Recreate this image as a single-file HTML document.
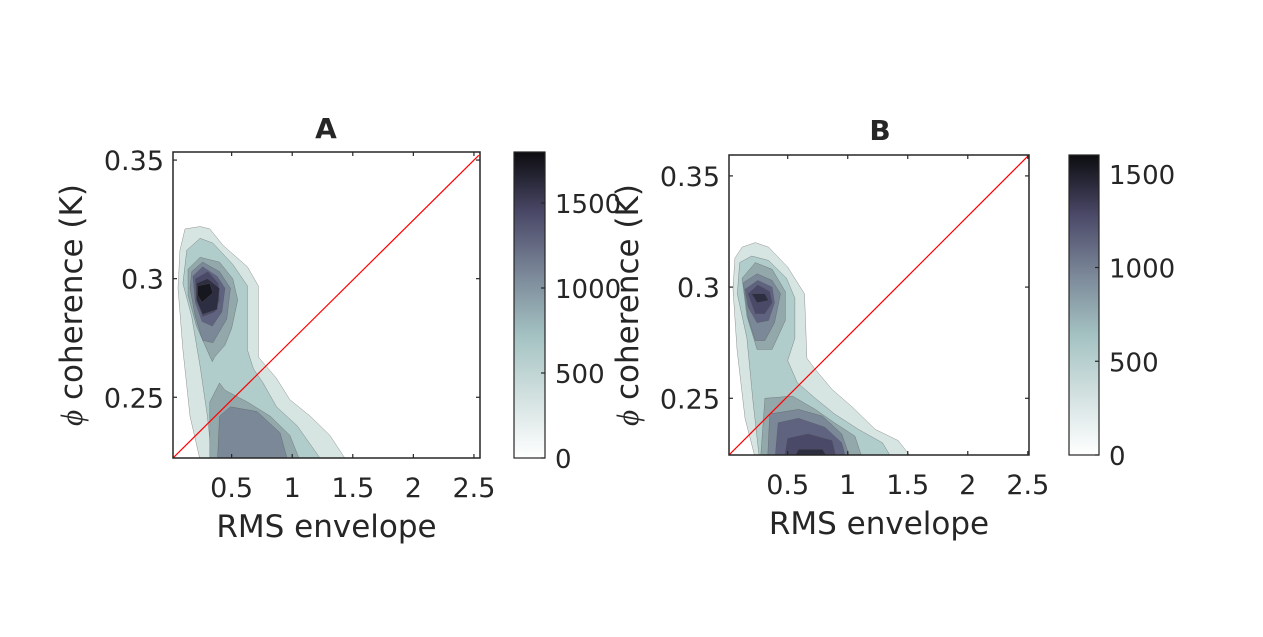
<!DOCTYPE html>
<html><head><meta charset="utf-8">
<style>
body{margin:0;background:#fff;}
svg text{font-family:"DejaVu Sans","Liberation Sans",sans-serif;fill:#262626;}
</style></head>
<body>
<svg id="fig" width="1263" height="632" viewBox="0 0 1263 632" xmlns="http://www.w3.org/2000/svg">
<defs>
<linearGradient id="bone" x1="0" y1="1" x2="0" y2="0">
<stop offset="0" stop-color="#ffffff"/>
<stop offset="0.2" stop-color="#d2e1e0"/>
<stop offset="0.4" stop-color="#a4c2c2"/>
<stop offset="0.6" stop-color="#7b8899"/>
<stop offset="0.8" stop-color="#4b4968"/>
<stop offset="1" stop-color="#0c0c10"/>
</linearGradient>
<clipPath id="clipA"><rect x="173" y="152" width="307" height="306"/></clipPath>
<clipPath id="clipB"><rect x="729" y="155" width="300" height="300"/></clipPath>
</defs>
</svg>
<script>
// ---- data ----
const levelColors = ["#d6e4e2","#b0cccb","#93a8ab","#7a8898","#5f6380","#4a4a68","#2e2e42","#17171f"];
const xTicks = [0.5,1,1.5,2,2.5];
const xTickLabels = ["0.5","1","1.5","2","2.5"];
const yTicks = [0.25,0.3,0.35];
const yTickLabels = ["0.25","0.3","0.35"];
const cbTicksA = [0,500,1000,1500];
const cbTicksB = [0,500,1000,1500];
const cbMaxA = 1800;
const cbMaxB = 1600;
const diagLineA = [[0.016,0.2244],[2.54,0.352]];
const diagLineB = [[0.011,0.2245],[2.51,0.3594]];
// contour polygons per level: [level, xs, ys]
const contoursA = [
 [0,[0.255,0.156,0.098,0.057,0.073,0.115,0.24,0.32,0.43,0.63,0.72,0.72,0.87,0.98,1.15,1.31,1.49],[0.22,0.242,0.270,0.296,0.312,0.321,0.322,0.321,0.314,0.305,0.297,0.267,0.258,0.249,0.242,0.234,0.22]],
 [1,[0.345,0.30,0.24,0.17,0.098,0.13,0.24,0.345,0.51,0.63,0.63,0.68,0.76,0.87,1.04,1.29],[0.22,0.242,0.263,0.284,0.298,0.312,0.317,0.315,0.306,0.297,0.270,0.262,0.256,0.246,0.238,0.22]],
 [2,[0.14,0.24,0.40,0.51,0.55,0.50,0.445,0.36,0.34,0.305,0.21,0.14],[0.304,0.309,0.307,0.300,0.291,0.279,0.272,0.267,0.265,0.269,0.280,0.293]],
 [2,[0.32,0.32,0.40,0.445,0.63,0.82,0.98,1.09],[0.22,0.248,0.256,0.253,0.248,0.242,0.234,0.22]],
 [3,[0.17,0.26,0.40,0.49,0.46,0.345,0.26,0.20,0.156],[0.303,0.307,0.303,0.296,0.283,0.273,0.274,0.284,0.296]],
 [3,[0.38,0.40,0.49,0.71,0.90,0.98],[0.22,0.242,0.246,0.244,0.235,0.22]],
 [4,[0.18,0.26,0.38,0.445,0.42,0.34,0.255,0.20],[0.301,0.305,0.301,0.296,0.286,0.280,0.282,0.290]],
 [5,[0.20,0.305,0.39,0.40,0.36,0.26,0.21],[0.300,0.303,0.298,0.291,0.286,0.284,0.291]],
 [6,[0.21,0.30,0.40,0.38,0.26,0.21],[0.298,0.300,0.296,0.287,0.285,0.291]],
 [7,[0.22,0.32,0.345,0.255,0.22],[0.297,0.298,0.294,0.290,0.293]]
];
const contoursB = [
 [0,[0.244,0.144,0.078,0.044,0.06,0.12,0.23,0.34,0.50,0.64,0.66,0.73,0.87,1.04,1.23,1.42,1.58],[0.22,0.241,0.272,0.299,0.313,0.318,0.320,0.318,0.309,0.297,0.268,0.263,0.254,0.246,0.236,0.231,0.22]],
 [1,[0.27,0.21,0.16,0.08,0.10,0.20,0.34,0.49,0.56,0.56,0.50,0.58,0.73,0.89,1.09,1.29,1.40],[0.22,0.249,0.277,0.297,0.311,0.314,0.312,0.304,0.295,0.277,0.267,0.257,0.250,0.243,0.236,0.230,0.22]],
 [2,[0.12,0.23,0.37,0.48,0.48,0.37,0.245,0.16],[0.304,0.311,0.308,0.298,0.285,0.272,0.272,0.287]],
 [2,[0.27,0.31,0.54,0.73,0.89,1.06,1.14],[0.22,0.250,0.251,0.245,0.239,0.233,0.22]],
 [3,[0.13,0.245,0.37,0.44,0.39,0.31,0.23,0.17],[0.302,0.306,0.303,0.297,0.284,0.276,0.276,0.286]],
 [3,[0.33,0.35,0.59,0.79,0.95,1.04],[0.22,0.243,0.245,0.242,0.234,0.22]],
 [4,[0.145,0.25,0.37,0.39,0.34,0.245,0.17],[0.299,0.303,0.300,0.293,0.285,0.284,0.291]],
 [4,[0.39,0.42,0.59,0.81,0.95,1.0],[0.22,0.239,0.241,0.237,0.230,0.22]],
 [5,[0.17,0.25,0.35,0.37,0.31,0.23],[0.297,0.301,0.298,0.293,0.288,0.288]],
 [5,[0.46,0.50,0.67,0.87,0.92],[0.22,0.232,0.234,0.231,0.22]],
 [6,[0.20,0.31,0.34,0.245],[0.297,0.297,0.294,0.293]],
 [6,[0.52,0.59,0.79,0.87],[0.22,0.227,0.227,0.22]],
 [7,[0.60,0.64,0.72,0.76],[0.22,0.2243,0.2243,0.22]]
];
// ---- drawing ----
const NS="http://www.w3.org/2000/svg";
const fig=document.getElementById('fig');
function mk(tag,attrs,parent){const e=document.createElementNS(NS,tag);for(const k in attrs)e.setAttribute(k,attrs[k]);(parent||fig).appendChild(e);return e;}

const panels=[
 {id:'a',title:'A',L:173,T:152,W:307,H:306,x0:0.016,x1:2.55,y0:0.2244,y1:0.3534,clip:'clipA',contours:contoursA,diag:diagLineA,
  cbL:514,cbT:152,cbW:31,cbH:306,cbMax:cbMaxA,cbTicks:cbTicksA,titleX:326,titleY:138},
 {id:'b',title:'B',L:729,T:155,W:300,H:300,x0:0.011,x1:2.51,y0:0.2245,y1:0.3594,clip:'clipB',contours:contoursB,diag:diagLineB,
  cbL:1069,cbT:155,cbW:30,cbH:300,cbMax:cbMaxB,cbTicks:cbTicksB,titleX:880,titleY:140}
];
panels.forEach(p=>{
 const sx=v=>p.L+(v-p.x0)/(p.x1-p.x0)*p.W;
 const sy=v=>p.T+p.H-(v-p.y0)/(p.y1-p.y0)*p.H;
 const g=mk('g',{});
 
 
 mk('rect',{x:p.L,y:p.T,width:p.W,height:p.H,fill:'#fff'},g);
 const cg=mk('g',{'clip-path':'url(#'+p.clip+')'},g);
 
 
 p.contours.forEach((c,i)=>{
  const pts=c[1].map((x,j)=>sx(x).toFixed(1)+','+sy(c[2][j]).toFixed(1)).join(' ');
  const poly=mk('polygon',{points:pts,fill:levelColors[c[0]],stroke:'#555','stroke-width':0.5,'stroke-opacity':0.6},cg);
  
  
 });
 const ln=mk('line',{x1:sx(p.diag[0][0]),y1:sy(p.diag[0][1]),x2:sx(p.diag[1][0]),y2:sy(p.diag[1][1]),stroke:'#ff0000','stroke-width':1.2},cg);
 
 
 const box=mk('rect',{x:p.L,y:p.T,width:p.W,height:p.H,fill:'none',stroke:'#262626','stroke-width':1.5},g);
 
 
 xTicks.forEach((t,i)=>{
  const x=sx(t);
  mk('line',{x1:x,y1:p.T+p.H,x2:x,y2:p.T+p.H-4,stroke:'#262626','stroke-width':1.2},g);
  mk('line',{x1:x,y1:p.T,x2:x,y2:p.T+4,stroke:'#262626','stroke-width':1.2},g);
  const tx=mk('text',{x:x,y:p.T+p.H+39,'text-anchor':'middle','font-size':27},g);
  tx.textContent=xTickLabels[i];
  
  
 });
 yTicks.forEach((t,i)=>{
  const y=sy(t);
  mk('line',{x1:p.L,y1:y,x2:p.L+4,y2:y,stroke:'#262626','stroke-width':1.2},g);
  mk('line',{x1:p.L+p.W,y1:y,x2:p.L+p.W-4,y2:y,stroke:'#262626','stroke-width':1.2},g);
  const ty=mk('text',{x:p.L-9,y:y+10,'text-anchor':'end','font-size':27},g);
  ty.textContent=yTickLabels[i];
  
  
 });
 const ti=mk('text',{x:p.titleX,y:p.titleY,'text-anchor':'middle','font-size':28,'font-weight':'bold'},g);
 ti.textContent=p.title;
 
 
 const xl=mk('text',{x:p.L+p.W/2,y:p.T+p.H+79,'text-anchor':'middle','font-size':31},g);
 xl.textContent='RMS envelope';
 
 
 const yl=mk('text',{x:0,y:0,'text-anchor':'middle','font-size':31,transform:'translate('+(p.L-91)+','+(p.T+p.H/2)+') rotate(-90)'},g);
 yl.innerHTML='<tspan font-family="Liberation Serif,serif" font-style="italic">ϕ</tspan> coherence (K)';
 
 
 // colorbar
 const cb=mk('rect',{x:p.cbL,y:p.cbT,width:p.cbW,height:p.cbH,fill:'url(#bone)',stroke:'#262626','stroke-width':1.2},g);
 
 
 p.cbTicks.forEach(t=>{
  const y=p.cbT+p.cbH-t/p.cbMax*p.cbH;
  mk('line',{x1:p.cbL+p.cbW,y1:y,x2:p.cbL+p.cbW-4,y2:y,stroke:'#262626','stroke-width':1.2},g);
  const ct=mk('text',{x:p.cbL+p.cbW+10,y:y+10,'font-size':26},g);
  ct.textContent=String(t);
  
  
 });
});
</script>
</body></html>
